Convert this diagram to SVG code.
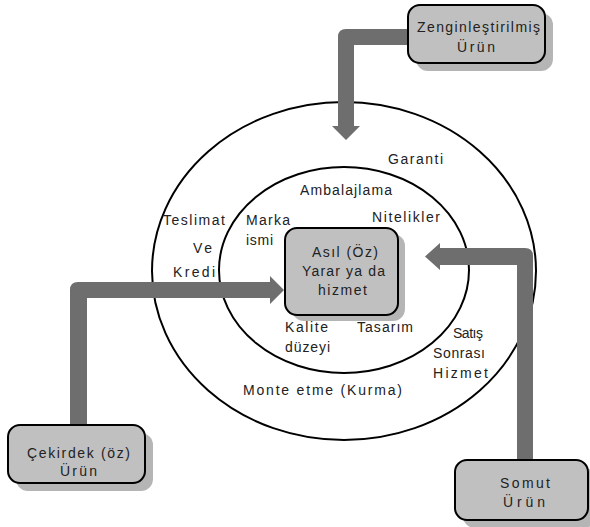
<svg xmlns="http://www.w3.org/2000/svg" width="590" height="527" viewBox="0 0 590 527">
<style>
.ring{fill:none;stroke:#000;stroke-width:2}
.box{fill:#c0c0c0;stroke:#000;stroke-width:2}
.shadow{fill:#b5b5b5}
.arrow{fill:#6e6e6e}
text{font-family:"Liberation Sans",Arial,sans-serif;font-size:14px;fill:#222}
</style>
<rect width="590" height="527" fill="#fff"/>
<g id="rings">
<ellipse class="ring" cx="344" cy="271" rx="192" ry="169"/>
<ellipse class="ring" cx="344" cy="270" rx="125" ry="103"/>
</g>
<g id="labels">
<text x="388" y="164" textLength="55" lengthAdjust="spacing">Garanti</text>
<text x="300" y="195" textLength="92" lengthAdjust="spacing">Ambalajlama</text>
<text x="372" y="222" textLength="68" lengthAdjust="spacing">Nitelikler</text>
<text x="246" y="225" textLength="44" lengthAdjust="spacing">Marka</text>
<text x="246" y="245" textLength="27" lengthAdjust="spacing">ismi</text>
<text x="163" y="225" textLength="62" lengthAdjust="spacing">Teslimat</text>
<text x="193" y="253" textLength="19" lengthAdjust="spacing">Ve</text>
<text x="173" y="277" textLength="42" lengthAdjust="spacing">Kredi</text>
<text x="285" y="332" textLength="43" lengthAdjust="spacing">Kalite</text>
<text x="285" y="352" textLength="45" lengthAdjust="spacing">düzeyi</text>
<text x="357" y="332" textLength="56" lengthAdjust="spacing">Tasarım</text>
<text x="453" y="338" textLength="30" lengthAdjust="spacing">Satış</text>
<text x="433" y="358" textLength="52" lengthAdjust="spacing">Sonrası</text>
<text x="433" y="378" textLength="55" lengthAdjust="spacing">Hizmet</text>
<text x="243" y="395" textLength="159" lengthAdjust="spacing">Monte etme (Kurma)</text>
</g>
<g id="connectors">
<path class="arrow" d="M408,29 L346,29 Q338,29 338,37 L338,126 L332,126 L346,140 L360,126 L354,126 L354,45 L408,45 Z"/>
<path class="arrow" d="M70,425 L70,290 Q70,282 78,282 L270,282 L270,276 L284,290 L270,304 L270,298 L87,298 L87,425 Z"/>
<path class="arrow" d="M533,460 L533,256 Q533,248 525,248 L440,248 L440,243 L425,256.5 L440,270 L440,265 L517,265 L517,460 Z"/>
</g>
<g id="core">
<rect class="shadow" x="292" y="234" width="113" height="87" rx="12"/>
<rect class="box" x="285" y="228" width="113" height="87" rx="12"/>
<text x="312" y="257" textLength="66" lengthAdjust="spacing">Asıl (Öz)</text>
<text x="302" y="276" textLength="83" lengthAdjust="spacing">Yarar ya da</text>
<text x="318" y="295" textLength="49" lengthAdjust="spacing">hizmet</text>
</g>
<g id="zenginlestirilmis">
<rect class="shadow" x="416" y="13" width="137" height="58" rx="12"/>
<rect class="box" x="408" y="5" width="137" height="58" rx="12"/>
<text x="417" y="32" textLength="123" lengthAdjust="spacing">Zenginleştirilmiş</text>
<text x="457" y="52" textLength="38" lengthAdjust="spacing">Ürün</text>
</g>
<g id="cekirdek">
<rect class="shadow" x="16" y="433" width="137" height="58" rx="12"/>
<rect class="box" x="8" y="425" width="137" height="58" rx="12"/>
<text x="27" y="458" textLength="103" lengthAdjust="spacing">Çekirdek (öz)</text>
<text x="60" y="476" textLength="37" lengthAdjust="spacing">Ürün</text>
</g>
<g id="somut">
<rect class="shadow" x="463" y="468" width="133" height="60" rx="12"/>
<rect class="box" x="455" y="460" width="133" height="60" rx="12"/>
<text x="500" y="488" textLength="50" lengthAdjust="spacing">Somut</text>
<text x="503" y="507" textLength="42" lengthAdjust="spacing">Ürün</text>
</g>
</svg>
